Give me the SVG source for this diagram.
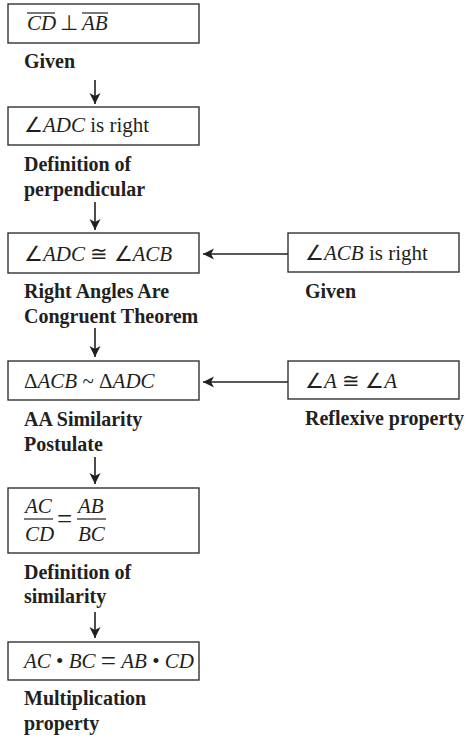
<svg xmlns="http://www.w3.org/2000/svg" width="466" height="740" viewBox="0 0 466 740">
<defs>
<style>
.box{fill:#fff;stroke:#333;stroke-width:1.4}
.lbl{font-family:"Liberation Serif",serif;font-weight:bold;font-size:20px;fill:#231f20}
.mt{font-family:"Liberation Serif",serif;font-size:21px;fill:#231f20}
.it{font-style:italic}
.eq{font-size:27px}
.conn{stroke:#231f20;stroke-width:1.6;fill:none}
.rule{stroke:#231f20;stroke-width:1.2}
</style>
<marker id="ah" markerUnits="userSpaceOnUse" markerWidth="12" markerHeight="12" viewBox="0 0 12 12" refX="11" refY="6" orient="auto">
<path d="M0,0.5 L11,6 L0,11.5 L3,6 Z" fill="#231f20"/>
</marker>
</defs>
<rect width="466" height="740" fill="#fff"/>

<g id="connectors">
<line class="conn" x1="95" y1="80" x2="95" y2="104" marker-end="url(#ah)"/>
<line class="conn" x1="95" y1="202" x2="95" y2="230" marker-end="url(#ah)"/>
<line class="conn" x1="95" y1="328" x2="95" y2="357" marker-end="url(#ah)"/>
<line class="conn" x1="95" y1="457" x2="95" y2="484" marker-end="url(#ah)"/>
<line class="conn" x1="95" y1="612" x2="95" y2="638" marker-end="url(#ah)"/>
<line class="conn" x1="288" y1="254" x2="203" y2="254" marker-end="url(#ah)"/>
<line class="conn" x1="288" y1="382" x2="203" y2="382" marker-end="url(#ah)"/>
</g>

<g id="n1">
<rect class="box" x="8" y="4" width="191" height="39"/>
<text class="mt it" x="27" y="30">CD</text>
<line class="rule" x1="27" y1="13" x2="55" y2="13"/>
<text class="mt" x="60" y="30">⊥</text>
<text class="mt it" x="82" y="30">AB</text>
<line class="rule" x1="82" y1="13" x2="108" y2="13"/>
<text class="lbl" x="24" y="68">Given</text>
</g>

<g id="n2">
<rect class="box" x="8" y="107" width="191" height="38"/>
<text class="mt" x="24" y="132">∠<tspan class="it">ADC</tspan> is right</text>
<text class="lbl" x="24" y="171">Definition of</text>
<text class="lbl" x="24" y="196">perpendicular</text>
</g>

<g id="n3">
<rect class="box" x="8" y="233" width="191" height="40"/>
<text class="mt" x="24" y="261">∠<tspan class="it">ADC</tspan> ≅ ∠<tspan class="it">ACB</tspan></text>
<text class="lbl" x="24" y="298">Right Angles Are</text>
<text class="lbl" x="24" y="323">Congruent Theorem</text>
</g>

<g id="n3r">
<rect class="box" x="288" y="233" width="171" height="39"/>
<text class="mt" x="305" y="260">∠<tspan class="it">ACB</tspan> is right</text>
<text class="lbl" x="305" y="298">Given</text>
</g>

<g id="n4">
<rect class="box" x="8" y="361" width="191" height="39"/>
<text class="mt" x="24" y="388">Δ<tspan class="it">ACB</tspan> ~ Δ<tspan class="it">ADC</tspan></text>
<text class="lbl" x="24" y="426">AA Similarity</text>
<text class="lbl" x="24" y="451">Postulate</text>
</g>

<g id="n4r">
<rect class="box" x="288" y="361" width="171" height="38"/>
<text class="mt" x="305" y="388">∠<tspan class="it">A</tspan> ≅ ∠<tspan class="it">A</tspan></text>
<text class="lbl" x="305" y="425">Reflexive property</text>
</g>

<g id="n5">
<rect class="box" x="8" y="488" width="191" height="65"/>
<text class="mt it" x="25" y="513">AC</text>
<line class="rule" x1="24" y1="519" x2="53" y2="519"/>
<text class="mt it" x="25" y="541">CD</text>
<text class="mt eq" x="57" y="528">=</text>
<text class="mt it" x="78" y="513">AB</text>
<line class="rule" x1="77" y1="519" x2="106" y2="519"/>
<text class="mt it" x="78" y="541">BC</text>
<text class="lbl" x="24" y="579">Definition of</text>
<text class="lbl" x="24" y="603">similarity</text>
</g>

<g id="n6">
<rect class="box" x="8" y="642" width="191" height="38"/>
<text class="mt" x="24" y="668"><tspan class="it">AC</tspan> • <tspan class="it">BC</tspan> <tspan class="eq" dy="2">=</tspan><tspan dy="-2"> </tspan><tspan class="it">AB</tspan> • <tspan class="it">CD</tspan></text>
<text class="lbl" x="24" y="705">Multiplication</text>
<text class="lbl" x="24" y="730">property</text>
</g>
</svg>
